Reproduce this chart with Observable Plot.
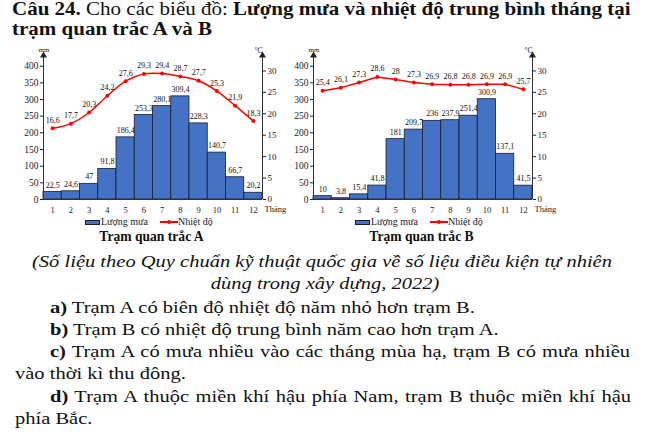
<!DOCTYPE html>
<html><head><meta charset="utf-8">
<script src="https://cdn.jsdelivr.net/npm/d3@7"></script>
<script src="https://cdn.jsdelivr.net/npm/@observablehq/plot@0.6"></script>
<style>
html,body{margin:0;padding:0;background:#fff}
body{width:666px;height:441px;overflow:hidden;position:relative;font-family:"Liberation Serif","Times New Roman",serif;color:#111}
.ln{position:absolute;white-space:nowrap;font-size:20.5px;line-height:20.5px;transform:scaleY(.86);transform-origin:0 17.2px}
.tt{position:absolute;white-space:nowrap;font-size:21px;line-height:21px;font-weight:bold;transform:scaleY(.86);transform-origin:0 17.6px}
.jf{white-space:normal;text-align:justify;text-align-last:justify}
.chart{position:absolute;top:42px}
.leg{position:absolute;font-size:10px;line-height:10px;white-space:nowrap;color:#222}
.st{position:absolute;font-size:13.6px;line-height:14px;font-weight:bold;white-space:nowrap;text-align:center;width:200px}
</style></head><body>
<div class="tt" style="left:12px;top:-1.6px">Câu 24.<span style="font-weight:normal"> Cho các biểu đồ: </span>Lượng mưa và nhiệt độ trung bình tháng tại</div>
<div class="tt" style="left:12px;top:18.2px">trạm quan trắc A và B</div>

<div id="cA" class="chart" style="left:0px"></div>
<div id="cB" class="chart" style="left:270px"></div>

<div class="ln" style="left:0;width:644px;text-align:center;top:249.8px"><i>(Số liệu theo Quy chuẩn kỹ thuật quốc gia về số liệu điều kiện tự nhiên</i></div>
<div class="ln" style="left:0;width:650px;text-align:center;top:271.8px"><i>dùng trong xây dựng, 2022)</i></div>
<div class="ln" style="left:50px;top:295.8px"><b>a)</b> Trạm A có biên độ nhiệt độ năm nhỏ hơn trạm B.</div>
<div class="ln" style="left:50px;top:317.8px"><b>b)</b> Trạm B có nhiệt độ trung bình năm cao hơn trạm A.</div>
<div class="ln jf" style="left:50px;width:580px;top:339.8px"><b>c)</b> Trạm A có mưa nhiều vào các tháng mùa hạ, trạm B có mưa nhiều</div>
<div class="ln" style="left:15px;top:362.3px">vào thời kì thu đông.</div>
<div class="ln jf" style="left:50px;width:581px;top:384.8px"><b>d)</b> Trạm A thuộc miền khí hậu phía Nam, trạm B thuộc miền khí hậu</div>
<div class="ln" style="left:15px;top:406.8px">phía Bắc.</div>

<script>
const months = [1,2,3,4,5,6,7,8,9,10,11,12];
const rainA = [22.5, 24.6, 47, 91.8, 186.4, 253.3, 280.1, 309.4, 228.3, 140.7, 66.7, 20.2];
const tempA = [16.6, 17.7, 20.3, 24.2, 27.6, 29.3, 29.4, 28.7, 27.7, 25.3, 21.9, 18.3];
const rainB = [10, 3.8, 15.4, 41.8, 181, 209.7, 236, 237.9, 251.4, 300.9, 137.1, 41.5];
const tempB = [25.4, 26.1, 27.3, 28.6, 28, 27.3, 26.9, 26.8, 26.8, 26.9, 26.9, 25.7];
const mmTicks = [0, 50, 100, 150, 200, 250, 300, 350, 400];
const cTicks = [0, 5, 10, 15, 20, 25, 30];
const stations = ["Trạm quan trắc A", "Trạm quan trắc B"];
const legendLabels = ["Lượng mưa", "Nhiệt độ"];

const K = 450 / 35;           // mm per °C (dual axis ratio)
const yTop = 432;             // top of the arrowed axes
const xDom = [0.5, 12.5];
const fmt = v => String(v).replace(".", ",");
const BLUE = "#4472C4", RED = "#FF0000";

function chart(rain, temp, curve) {
  const data = months.map((m, i) => ({m, r: rain[i], t: temp[i] * K, tv: temp[i]}));
  return Plot.plot({
    width: 290, height: 178,
    marginLeft: 43, marginRight: 28, marginTop: 13, marginBottom: 21,
    style: {background: "transparent", fontFamily: "Liberation Serif, Times New Roman, serif", fontSize: "9.5px", color: "#222", overflow: "visible"},
    x: {domain: xDom},
    y: {domain: [0, yTop]},
    marks: [
      Plot.rect(data, {x1: d => d.m - 0.5, x2: d => d.m + 0.5, y1: 0, y2: "r", fill: BLUE, stroke: "#1c1c2a", strokeWidth: 0.8}),
      Plot.ruleY([0], {stroke: "#333", strokeWidth: 1}),
      Plot.ruleX(xDom, {y1: 0, y2: yTop, stroke: "#333", strokeWidth: 1}),
      Plot.dot(xDom, {x: d => d, y: yTop, symbol: "triangle", r: 2.6, fill: "#222", stroke: "none"}),
      Plot.axisY({anchor: "left", ticks: mmTicks, tickSize: 3, tickPadding: 2, label: null, fontSize: 9.5}),
      Plot.axisY({anchor: "right", ticks: cTicks.map(c => c * K), tickFormat: v => Math.round(v / K), tickSize: 3, tickPadding: 2, label: null, fontSize: 9}),
      Plot.axisX({ticks: months, tickSize: 0, tickPadding: 7, label: null, fontSize: 8.5, tickFormat: d => d}),
      Plot.text(["Tháng"], {frameAnchor: "bottom-right", dy: 12.5, dx: 2, textAnchor: "start", fontSize: 8.5}),
      Plot.text(["mm"], {frameAnchor: "top-left", dy: -8, dx: -5, fontSize: 7}),
      Plot.text(["°C"], {frameAnchor: "top-right", dy: -8, dx: 0, fontSize: 7.5}),
      Plot.line(data, {x: "m", y: "t", stroke: RED, strokeWidth: 1.5, curve}),
      Plot.dot(data, {x: "m", y: "t", r: 2, fill: RED, stroke: "none"}),
      Plot.text(data, {x: "m", y: "r", text: d => fmt(d.r), dy: -7, fontSize: 8, fill: "#111"}),
      Plot.text(data, {x: "m", y: "t", text: d => fmt(d.tv), dy: -8, fontSize: 8, fill: "#111"})
    ]
  });
}

function addLegend(offset, idx) {
  const b = document.body;
  const mk = (html, css) => { const e = document.createElement("div"); e.innerHTML = html; e.style.cssText = css; b.appendChild(e); return e; };
  mk("", `position:absolute;left:${85 + offset}px;top:219.5px;width:15px;height:5px;background:${BLUE};box-sizing:border-box;border:0.6px solid #1c1c2a`);
  const l1 = mk(legendLabels[0], `left:${101 + offset}px;top:217px`); l1.className = "leg";
  mk("", `position:absolute;left:${160 + offset}px;top:221.3px;width:18px;height:1.5px;background:${RED}`);
  mk("", `position:absolute;left:${167 + offset}px;top:220px;width:4px;height:4px;border-radius:50%;background:${RED}`);
  const l2 = mk(legendLabels[1], `left:${178 + offset}px;top:217px`); l2.className = "leg";
  const t = mk(stations[idx], `left:${51.5 + offset}px;top:230px`); t.className = "st";
}

document.getElementById("cA").appendChild(chart(rainA, tempA, "catmull-rom"));
document.getElementById("cB").appendChild(chart(rainB, tempB, "linear"));
addLegend(0, 0);
addLegend(270, 1);
</script>
</body></html>
